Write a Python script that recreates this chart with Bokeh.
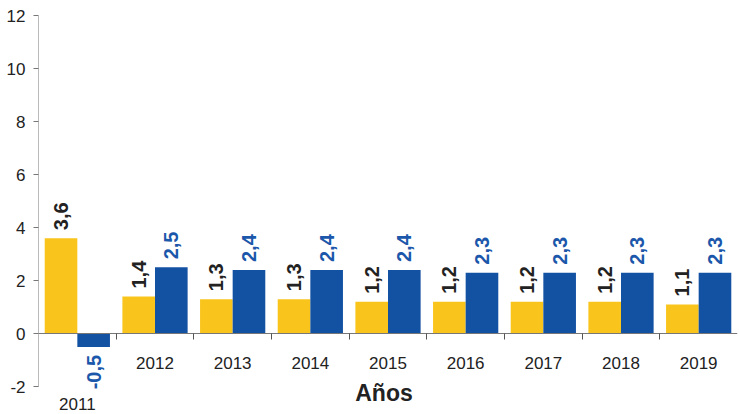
import math
from bokeh.plotting import figure
from bokeh.models import ColumnDataSource, LabelSet, Label, FixedTicker, Range1d
from bokeh.core.properties import value
from bokeh.transform import dodge
from bokeh.embed import file_html
from bokeh.resources import INLINE

# ---- data ----
years = ["2011", "2012", "2013", "2014", "2015", "2016", "2017", "2018", "2019"]
serie_amarilla = [3.6, 1.4, 1.3, 1.3, 1.2, 1.2, 1.2, 1.2, 1.1]
serie_azul = [-0.5, 2.5, 2.4, 2.4, 2.4, 2.3, 2.3, 2.3, 2.3]
y_ticks = [-2, 0, 2, 4, 6, 8, 10, 12]
y_tick_labels = ["-2", "0", "2", "4", "6", "8", "10", "12"]
x_title = "Años"

YELLOW = "#F9C51D"
BLUE = "#1351A3"
LABEL_BLUE = "#1B57AA"
DARK = "#222222"
AXIS = "#777777"
FONT = "Liberation Sans"

n = len(years)
BAR_W = 0.42

def fmt(v):
    return f"{v:.1f}".replace(".", ",")

centers = [i + 0.5 for i in range(n)]
src = ColumnDataSource(dict(
    x=centers,
    a=serie_amarilla,
    b=serie_azul,
    a_lbl=[fmt(v) for v in serie_amarilla],
    b_lbl=[fmt(v) for v in serie_azul],
    year=years,
    # first category label is pushed lower (below the negative bar's label)
    year_off=[-70 if v < 0 else -29 for v in serie_azul],
))

def subset(key, positive):
    d = {k: [] for k in ("x", "v", "lbl")}
    for i in range(n):
        v = src.data[key][i]
        if (v >= 0) == positive:
            d["x"].append(centers[i])
            d["v"].append(v)
            d["lbl"].append(src.data[key + "_lbl"][i])
    return ColumnDataSource(d)

# frame extends a bit below -2 so that texts under the axis are not clipped
p = figure(width=739, height=414,
           x_range=Range1d(0, n), y_range=Range1d(-3.05, y_ticks[-1]),
           output_backend="svg", toolbar_location=None,
           min_border_left=38, min_border_right=2, min_border_top=15, min_border_bottom=0)
p.outline_line_color = None
p.grid.visible = False
p.background_fill_color = "white"
p.border_fill_color = "white"

p.vbar(x=dodge("x", -BAR_W / 2), top="a", width=BAR_W, source=src,
       fill_color=YELLOW, line_color=None)
p.vbar(x=dodge("x", BAR_W / 2), top="b", width=BAR_W, source=src,
       fill_color=BLUE, line_color=None)

# y axis: line drawn only between first and last tick
p.segment(x0=0, y0=y_ticks[0], x1=0, y1=y_ticks[-1], line_color=AXIS, line_width=1)
p.yaxis.ticker = FixedTicker(ticks=y_ticks)
p.yaxis.major_label_overrides = {t: l for t, l in zip(y_ticks, y_tick_labels)}
p.yaxis.major_label_text_font = FONT
p.yaxis.major_label_text_font_size = "17px"
p.yaxis.major_label_text_color = DARK
p.yaxis.axis_line_color = None
p.yaxis.major_tick_line_color = AXIS
p.yaxis.major_tick_out = 5
p.yaxis.major_tick_in = 0
p.yaxis.minor_tick_line_color = None
p.yaxis.major_label_standoff = 8

# x axis crossing at zero, ticks at category boundaries (labels drawn separately)
boundaries = list(range(1, n))
p.xaxis.fixed_location = 0
p.xaxis.ticker = FixedTicker(ticks=boundaries)
p.xaxis.major_label_overrides = {b: "" for b in boundaries}
p.xaxis.major_label_standoff = 0
p.xaxis.axis_line_color = AXIS
p.xaxis.major_tick_line_color = "#555555"
p.xaxis.major_tick_out = 6
p.xaxis.major_tick_in = 0
p.xaxis.minor_tick_line_color = None

label_kw = dict(angle=math.pi / 2, text_baseline="middle",
                text_font=value(FONT), text_font_style="bold", text_font_size="20px")

for key, dx, color in (("a", -BAR_W / 2, DARK), ("b", BAR_W / 2, LABEL_BLUE)):
    pos = subset(key, True)
    neg = subset(key, False)
    p.add_layout(LabelSet(x=dodge("x", dx), y="v", text="lbl", source=pos,
                          text_align="left", y_offset=8, text_color=color, **label_kw))
    p.add_layout(LabelSet(x=dodge("x", dx), y="v", text="lbl", source=neg,
                          text_align="right", y_offset=-8, text_color=color, **label_kw))

# category labels
p.add_layout(LabelSet(x="x", y=0, text="year", source=src, y_offset="year_off",
                      text_align="center", text_baseline="middle",
                      text_font=value(FONT), text_font_size="17px", text_color=DARK))

# axis title
p.add_layout(Label(x=n / 2, y=0, x_offset=-4, y_offset=-59, text=x_title,
                   text_align="center", text_baseline="middle",
                   text_font=FONT, text_font_style="bold", text_font_size="23px",
                   text_color=DARK))

open("out.html", "w").write(file_html(p, INLINE))
